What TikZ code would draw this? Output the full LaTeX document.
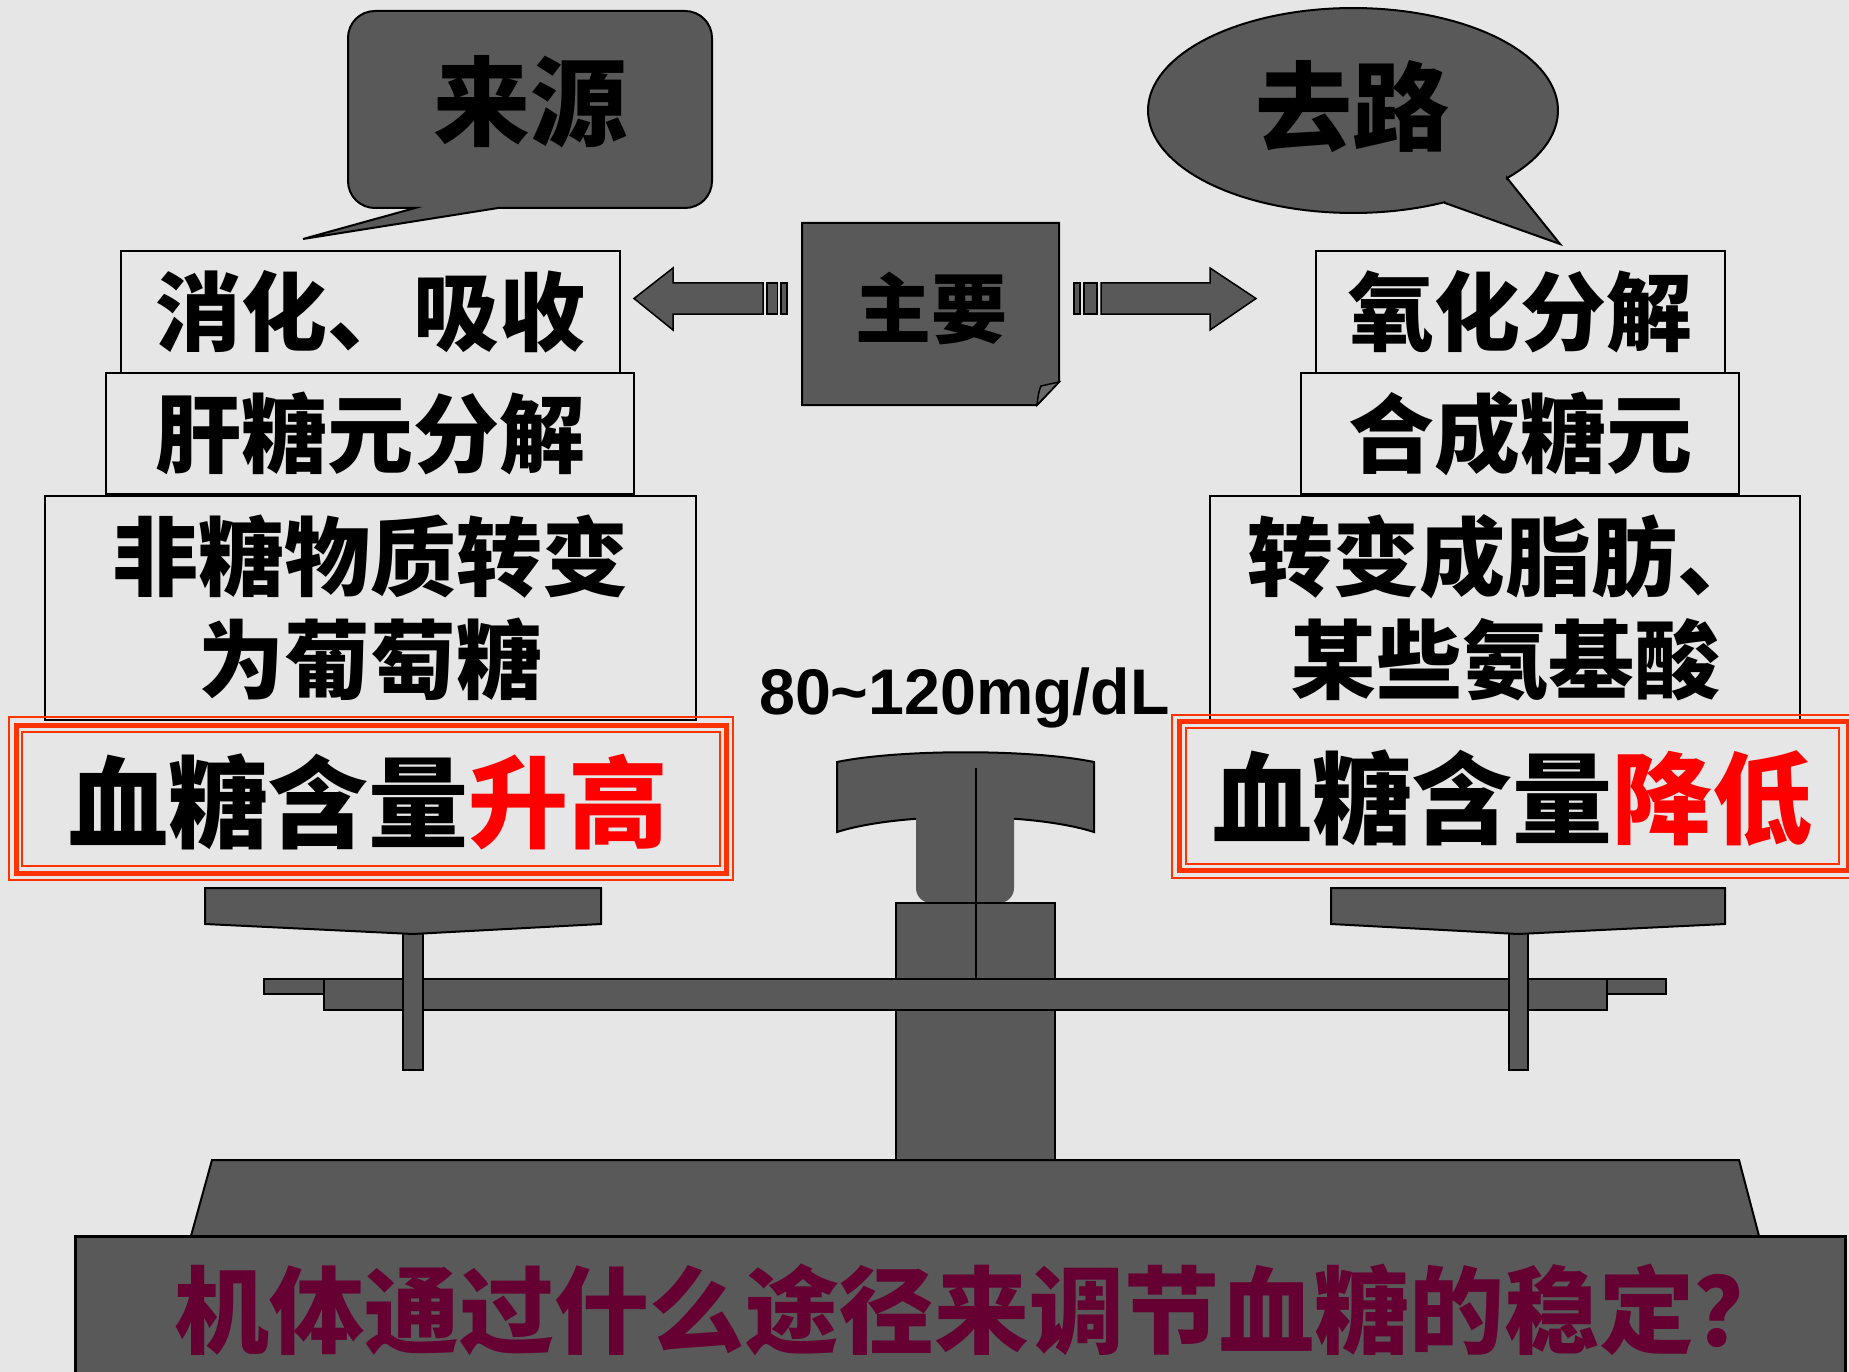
\documentclass[tikz,border=0pt]{standalone}
\usepackage{fontspec}
\newfontfamily\cjk{Noto Sans CJK SC}
\newfontfamily\lat{Liberation Sans}
\definecolor{bgcol}{HTML}{E6E6E6}
\definecolor{metalcol}{HTML}{595959}
\definecolor{foldcol}{HTML}{6A6A6A}
\definecolor{framecol}{HTML}{FF3300}
\definecolor{hotred}{HTML}{FF0000}
\definecolor{maroon}{HTML}{660033}
\begin{document}
\begin{tikzpicture}[x=1pt,y=-1pt,
  metal/.style={fill=metalcol,draw=black,line width=2pt,line join=miter},
  stackbox/.style={draw=black,line width=2pt,inner sep=0pt,align=center,
    font=\cjk\bfseries\fontsize{86pt}{103pt}\selectfont},
  bigtext/.style={inner sep=0pt,font=\cjk\bfseries\fontsize{100pt}{110pt}\selectfont},
  calltext/.style={inner sep=0pt,font=\cjk\bfseries\fontsize{97pt}{105pt}\selectfont},
  framethin/.style={draw=framecol,line width=2.5pt},
  framethick/.style={draw=framecol,line width=5pt},
  frameinner/.style={draw=framecol,line width=2pt}]
\useasboundingbox (0,0) rectangle (1849,1372);
\clip (0,0) rectangle (1849,1372);
\fill[bgcol] (0,0) rectangle (1849,1372);

% ---------- call-out: rounded box with tail ----------
\draw[metal] (498,208) -- (685,208) .. controls (700,208) and (712,196) .. (712,181)
  -- (712,38) .. controls (712,23) and (700,11) .. (685,11)
  -- (375,11) .. controls (360,11) and (348,23) .. (348,38)
  -- (348,181) .. controls (348,196) and (360,208) .. (375,208)
  -- (415,208) -- (303,239) -- cycle;
\node[calltext] (src) at (530,102) {来源};

% ---------- call-out: oval with tail ----------
\draw[metal] (1507,178) -- (1560,244) -- (1445,203)
  -- plot[domain=63.5:401.3,samples=120] ({1353+205*cos(\x)},{110.5+102.5*sin(\x)}) -- cycle;
\node[calltext] (sink) at (1352,107) {去路};

% ---------- central note with folded corner ----------
\draw[metal] (802,223) -- (1059,223) -- (1059,382) -- (1037,405) -- (802,405) -- cycle;
\draw[fill=foldcol,draw=black,line width=1.5pt] (1037,405) .. controls (1038,396) and (1039,390) .. (1041,386) -- (1059,382) -- cycle;
\node[inner sep=0pt,font=\cjk\bfseries\fontsize{76pt}{80pt}\selectfont] (main) at (931,309) {主要};

% ---------- block arrows ----------
\draw[metal,line width=1.5pt] (634,298.5) -- (673,268) -- (673,283) -- (763,283) -- (763,314) -- (673,314) -- (673,330) -- cycle;
\draw[metal,line width=1.5pt] (767,283) rectangle (777.5,314);
\draw[metal,line width=1.5pt] (781,283) rectangle (787,314);
\draw[metal,line width=1.5pt] (1074,283) rectangle (1080,314);
\draw[metal,line width=1.5pt] (1084,283) rectangle (1097,314);
\draw[metal,line width=1.5pt] (1101,283) -- (1210,283) -- (1210,268) -- (1256,298.5) -- (1210,330) -- (1210,314) -- (1101,314) -- cycle;

% ---------- sources (left stack) ----------
\node[stackbox,minimum width=499pt,minimum height=122pt] (l1) at (370.5,312) {消化、吸收};
\node[stackbox,minimum width=528pt,minimum height=121pt] (l2) at (370,433.5) {肝糖元分解};
\node[stackbox,minimum width=651pt,minimum height=224pt] (l3) at (370.5,608) {非糖物质转变\\为葡萄糖};

% ---------- sinks (right stack) ----------
\node[stackbox,minimum width=409pt,minimum height=122pt] (r1) at (1520.5,312) {氧化分解};
\node[stackbox,minimum width=438pt,minimum height=121pt] (r2) at (1520,433.5) {合成糖元};
\node[stackbox,minimum width=590pt,minimum height=224pt] (r3) at (1505,608) {转变成脂肪、\\某些氨基酸};

% ---------- triple-line frames ----------
\draw[framethin] (9,717) rectangle (733,880);
\draw[framethick] (16,725.5) rectangle (726.5,873.5);
\draw[frameinner] (22,732) rectangle (719.5,866);
\node[bigtext] (up) at (368,802) {血糖含量\textcolor{hotred}{升高}};

\draw[framethin] (1172,715) rectangle (1856,878);
\draw[framethick] (1179.5,721) rectangle (1848,870.5);
\draw[frameinner] (1185.5,728) rectangle (1839,864);
\node[bigtext] (down) at (1512,798.5) {血糖含量\textcolor{hotred}{降低}};

% ---------- normal range ----------
\node[inner sep=0pt,anchor=base,font=\lat\bfseries\fontsize{64.5pt}{70pt}\selectfont] (range) at (964.5,714) {80\textasciitilde120mg/dL};

% ---------- balance ----------
\draw[metal] (896,903) rectangle (1055,1160);
\draw[metal] (212,1160) -- (1739,1160) -- (1759,1236) -- (191,1236) -- cycle;
\draw[metal,line width=3pt] (75,1236) rectangle (1845,1390);
\draw[metal] (837,762) .. controls (900,749) and (1031,749) .. (1094,762)
  -- (1094,832) .. controls (1031,812) and (900,812) .. (837,832) -- cycle;
\fill[metalcol,rounded corners=15pt] (916,790) rectangle (1014,903);
\draw[metal] (896,903) -- (1055,903);
\draw[metal] (264,979) rectangle (324,994);
\draw[metal] (1607,979) rectangle (1666,994);
\draw[metal] (324,979) rectangle (1607,1010);
\draw[black,line width=2pt] (976,768) -- (976,979);
\draw[metal] (403,928) rectangle (423,1070);
\draw[metal] (1509,928) rectangle (1528,1070);
\draw[metal] (205,888) -- (601,888) -- (601,924) -- (413,934) -- (205,924) -- cycle;
\draw[metal] (1331,888) -- (1725,888) -- (1725,924) -- (1518,934) -- (1331,924) -- cycle;

% ---------- question ----------
\node[inner sep=0pt,text=maroon,font=\cjk\bfseries\fontsize{95pt}{100pt}\selectfont] (question) at (982,1310) {机体通过什么途径来调节血糖的稳定？};
\end{tikzpicture}
\end{document}
